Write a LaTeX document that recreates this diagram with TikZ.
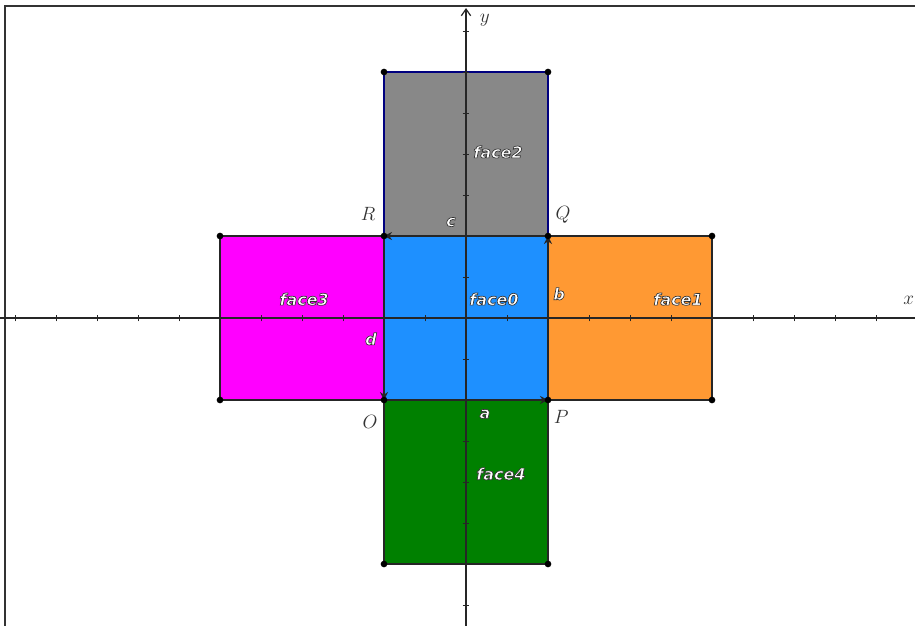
\documentclass[tikz,border=0pt]{standalone}
\usepackage{fontspec}
\usetikzlibrary{arrows.meta}
\newfontfamily\lblfont{DejaVu Sans}
\definecolor{fzero}{HTML}{1E90FF}
\definecolor{fone}{HTML}{FF9933}
\definecolor{ftwo}{HTML}{888888}
\definecolor{fthree}{HTML}{FF00FF}
\definecolor{ffour}{HTML}{008000}
\definecolor{navy}{HTML}{00007F}
\definecolor{txtgray}{HTML}{333333}
\newcommand{\flab}[1]{\textcolor{white}{\special{pdf:literal direct 2 Tr 0.5 w 0.2 0.2 0.2 RG}\lblfont\bfseries\itshape #1\special{pdf:literal direct 0 Tr}}}
\tikzset{
  face/.style={draw=black!85, line width=0.9pt},
  axis/.style={draw=black!85, line width=0.9pt},
  tick/.style={draw=black!85, line width=0.6pt},
  dot/.style={circle, fill=black, inner sep=0pt, minimum size=5pt},
  vec/.style={draw=black!85, line width=0.9pt, -{Stealth[length=6pt,width=6pt]}},
  flabel/.style={inner sep=0pt, font=\fontsize{12}{14}\selectfont},
  plabel/.style={inner sep=0pt, text=txtgray, font=\fontsize{14}{16}\selectfont},
}
\begin{document}
\begin{tikzpicture}[x=30.75pt, y=30.75pt]
\useasboundingbox (-11.366,-7.512) rectangle (10.951,7.756);
% frame
\draw[black!80, line width=1.2pt] (-11.24,-7.6) -- (-11.24,7.61) -- (11.1,7.61);
% corners
\coordinate (O) at (-2,-2);
\coordinate (P) at (2,-2);
\coordinate (Q) at (2,2);
\coordinate (R) at (-2,2);
\coordinate (A1) at (6,-2);
\coordinate (A2) at (6,2);
\coordinate (B1) at (-2,6);
\coordinate (B2) at (2,6);
\coordinate (C1) at (-6,-2);
\coordinate (C2) at (-6,2);
\coordinate (D1) at (-2,-6);
\coordinate (D2) at (2,-6);
% faces
\fill[fzero] (O) rectangle (Q);
\fill[fone] (P) rectangle (A2);
\fill[ftwo] (R) rectangle (B2);
\fill[fthree] (C1) rectangle (R);
\fill[ffour] (D1) rectangle (P);
\draw[face] (P) -- (A1) -- (A2) -- (Q);
\draw[face] (R) -- (C2) -- (C1) -- (O);
\draw[face] (O) -- (D1) -- (D2) -- (P);
\draw[face, draw=navy] (R) -- (B1) -- (B2) -- (Q);
% axes
\coordinate (xl) at (-11.366,0);
\coordinate (xr) at (11.05,0);
\coordinate (yb) at (0,-7.6);
\coordinate (yt) at (0,7.56);
\draw[axis] (xl) -- (xr);
\draw[axis, -{Straight Barb[length=5pt,width=7pt]}] (yb) -- (yt);
\foreach \k in {-11,...,11} {\ifnum\k=0\else\draw[tick] (\k,-0.08) -- (\k,0.08);\fi}
\foreach \k in {-7,...,7} {\ifnum\k=0\else\draw[tick] (-0.08,\k) -- (0.08,\k);\fi}
\node[plabel] (ylab) at (0.46,7.27) {$y$};
\node[plabel] (xlab) at (10.8,0.44) {$x$};
% vectors
\draw[vec] (O) -- (P);
\draw[vec] (P) -- (Q);
\draw[vec] (Q) -- (R);
\draw[vec] (R) -- (O);
% dots
\foreach \p in {O,P,Q,R,A1,A2,B1,B2,C1,C2,D1,D2} {\node[dot] at (\p) {};}
% face labels
\node[flabel] (l0) at (0.68,0.46) {\flab{face0}};
\node[flabel] (l1) at (5.17,0.46) {\flab{face1}};
\node[flabel] (l2) at (0.78,4.05) {\flab{face2}};
\node[flabel] (l3) at (-3.95,0.46) {\flab{face3}};
\node[flabel] (l4) at (0.85,-3.8) {\flab{face4}};
\node[flabel] (la) at (0.46,-2.34) {\flab{a}};
\node[flabel] (lb) at (2.27,0.59) {\flab{b}};
\node[flabel] (lc) at (-0.37,2.34) {\flab{c}};
\node[flabel] (ld) at (-2.32,-0.51) {\flab{d}};
% point labels
\node[plabel] (lR) at (-2.39,2.54) {$R$};
\node[plabel] (lQ) at (2.37,2.51) {$Q$};
\node[plabel] (lO) at (-2.34,-2.54) {$O$};
\node[plabel] (lP) at (2.32,-2.41) {$P$};
\end{tikzpicture}
\end{document}
